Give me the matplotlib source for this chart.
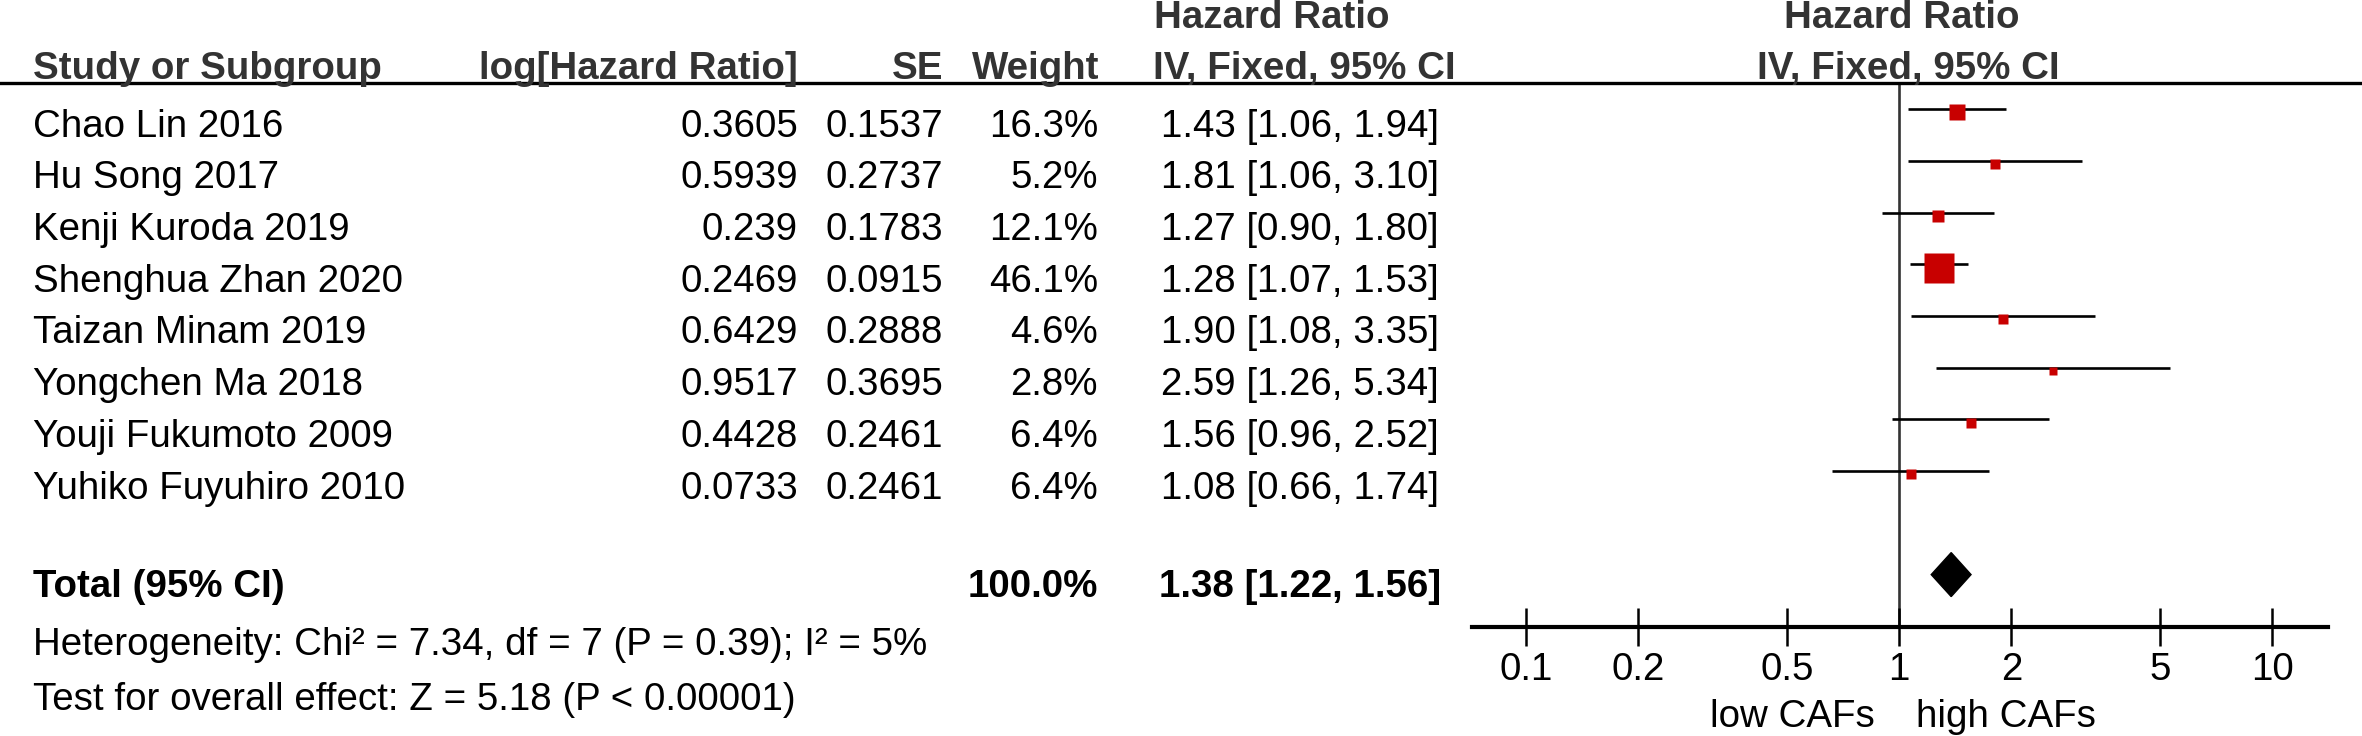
import numpy as np
import matplotlib.pyplot as plt
from matplotlib.lines import Line2D
from matplotlib.transforms import blended_transform_factory

plt.rcParams['font.family'] = ['Liberation Sans', 'DejaVu Sans']

# data
studies = ["Chao Lin 2016", "Hu Song 2017", "Kenji Kuroda 2019", "Shenghua Zhan 2020",
           "Taizan Minam 2019", "Yongchen Ma 2018", "Youji Fukumoto 2009", "Yuhiko Fuyuhiro 2010"]
log_hr = [0.3605, 0.5939, 0.239, 0.2469, 0.6429, 0.9517, 0.4428, 0.0733]
se = [0.1537, 0.2737, 0.1783, 0.0915, 0.2888, 0.3695, 0.2461, 0.2461]
weight = [16.3, 5.2, 12.1, 46.1, 4.6, 2.8, 6.4, 6.4]
hr = [1.43, 1.81, 1.27, 1.28, 1.90, 2.59, 1.56, 1.08]
ci_low = [1.06, 1.06, 0.90, 1.07, 1.08, 1.26, 0.96, 0.66]
ci_high = [1.94, 3.10, 1.80, 1.53, 3.35, 5.34, 2.52, 1.74]
total_hr, total_low, total_high = 1.38, 1.22, 1.56
total_weight = 100.0
het_text = "Heterogeneity: Chi² = 7.34, df = 7 (P = 0.39); I² = 5%"
effect_text = "Test for overall effect: Z = 5.18 (P < 0.00001)"
xticks = [0.1, 0.2, 0.5, 1, 2, 5, 10]
xtick_labels = ["0.1", "0.2", "0.5", "1", "2", "5", "10"]

W, H = 2362, 736
FS = 27.7
RED = "#C80000"
HEAD = "#333333"


def fx(px):
    return px / W


def fy(py):
    return 1 - py / H


fig = plt.figure(figsize=(W / 100, H / 100), dpi=100)

# forest panel: top at header rule, bottom at the x axis (pixel layout of the reference)
row0, step = 109.3, 51.7
top, bottom = 83, 627
ax = fig.add_axes([fx(1472), fy(bottom), fx(2328) - fx(1472), (bottom - top) / H])
ax.set_xscale("log")
ax.set_xlim(10 ** -1.1448, 10 ** 1.1501)
ax.set_ylim((bottom - row0) / step, (top - row0) / step)
for s in ["top", "left", "right"]:
    ax.spines[s].set_visible(False)
ax.spines["bottom"].set_linewidth(3.0)
ax.set_yticks([])
ax.set_xticks(xticks)
ax.set_xticklabels(xtick_labels)
ax.minorticks_off()
ax.tick_params(axis="x", direction="inout", length=28, width=1.8, labelsize=FS, pad=4)
ax.axvline(1, color="#333333", lw=1.9, zorder=1)

rows = np.arange(len(studies))
ax.hlines(rows, ci_low, ci_high, color="black", lw=1.9, zorder=2)
for i in rows:
    side_px = 6.9 + 0.5 * weight[i]
    ax.plot(hr[i], i + 0.06, marker="s", ms=side_px * 0.72,
            color=RED, mec="none", zorder=3)

ty = len(studies) + 1
dh = 22 / step
ax.fill([total_low, total_hr, total_high, total_hr], [ty, ty - dh, ty, ty + dh],
        color="black", zorder=3)

lab_tr = blended_transform_factory(ax.transData, fig.transFigure)
ax.text(1 / 1.16, fy(727), "low CAFs", transform=lab_tr, ha="right", va="baseline", fontsize=FS)
ax.text(1.11, fy(727), "high CAFs", transform=lab_tr, ha="left", va="baseline", fontsize=FS)

# header
fig.add_artist(Line2D([0, 1], [fy(83), fy(83)], transform=fig.transFigure, color="black", lw=2.4))
hb = fy(79)
hdr = dict(va="baseline", fontsize=FS, weight="bold", color=HEAD)
fig.text(fx(1272), fy(28), "Hazard Ratio", ha="center", **hdr)
fig.text(fx(1902), fy(28), "Hazard Ratio", ha="center", **hdr)
fig.text(fx(33), hb, "Study or Subgroup", ha="left", **hdr)
fig.text(fx(798), hb, "log[Hazard Ratio]", ha="right", **hdr)
fig.text(fx(943), hb, "SE", ha="right", **hdr)
fig.text(fx(1099), hb, "Weight", ha="right", **hdr)
fig.text(fx(1304), hb, "IV, Fixed, 95% CI", ha="center", **hdr)
fig.text(fx(1908), hb, "IV, Fixed, 95% CI", ha="center", **hdr)

# table rows, aligned with the forest rows
tr = blended_transform_factory(fig.transFigure, ax.transData)
off = 27.4 / step
for i in rows:
    y = i + off
    fig.text(fx(33), y, studies[i], transform=tr, ha="left", va="baseline", fontsize=FS)
    fig.text(fx(798), y, str(log_hr[i]), transform=tr, ha="right", va="baseline", fontsize=FS)
    fig.text(fx(943), y, f"{se[i]:.4f}", transform=tr, ha="right", va="baseline", fontsize=FS)
    fig.text(fx(1098), y, f"{weight[i]:.1f}%", transform=tr, ha="right", va="baseline", fontsize=FS)
    fig.text(fx(1300), y, f"{hr[i]:.2f} [{ci_low[i]:.2f}, {ci_high[i]:.2f}]", transform=tr,
             ha="center", va="baseline", fontsize=FS)

y = ty + 22 / step
fig.text(fx(33), y, "Total (95% CI)", transform=tr, ha="left", va="baseline", fontsize=FS, weight="bold")
fig.text(fx(1098), y, f"{total_weight:.1f}%", transform=tr, ha="right", va="baseline", fontsize=FS, weight="bold")
fig.text(fx(1300), y, f"{total_hr:.2f} [{total_low:.2f}, {total_high:.2f}]", transform=tr,
         ha="center", va="baseline", fontsize=FS, weight="bold")
fig.text(fx(33), fy(655), het_text, ha="left", va="baseline", fontsize=FS)
fig.text(fx(33), fy(710), effect_text, ha="left", va="baseline", fontsize=FS)

fig.savefig("out.png", dpi=100)
